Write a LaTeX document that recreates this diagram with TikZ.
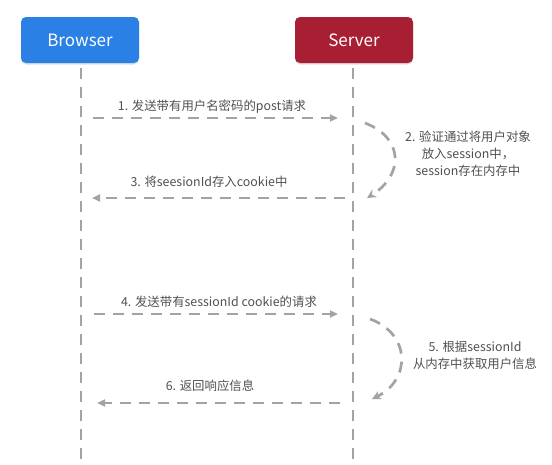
\documentclass[tikz,border=0pt]{standalone}
\usepackage{fontspec}
\setmainfont{Noto Sans CJK SC}
\usetikzlibrary{arrows.meta,shadows}
\definecolor{browserblue}{HTML}{2A80E4}
\definecolor{serverred}{HTML}{A81F33}
\definecolor{linegray}{HTML}{A3A3A3}
\definecolor{textgray}{HTML}{505050}

\begin{document}
\begin{tikzpicture}[x=1pt, y=-1pt]
            \tikzstyle{actor}=[rounded corners=5pt,minimum width=118pt,minimum height=46pt,text=white,font=\fontsize{17}{20}\selectfont,drop shadow={opacity=0.25,shadow xshift=0pt,shadow yshift=-1.5pt}]
            \tikzstyle{lifeline}=[linegray,line width=2.7pt,dash pattern=on 11pt off 8pt]
            \tikzstyle{msg}=[lifeline,-{Triangle[length=8pt,width=7pt]}]
            \tikzstyle{loop}=[lifeline,-{Stealth[length=9pt,width=9pt]}]
            \tikzstyle{step label}=[text=textgray,font=\fontsize{12.4}{17}\selectfont,align=center,inner sep=1pt]
            \useasboundingbox (0,0) rectangle (552,464);

            \node[actor,fill=browserblue] (browser) at (80,40)  {Browser};
            \node[actor,fill=serverred]   (server)  at (354,40) {Server};

            \coordinate (browserEnd) at (81,464);
            \coordinate (serverEnd)  at (353,464);
            \draw[lifeline] ([xshift=1pt,yshift=-5pt]browser.south) -- (browserEnd);
            \draw[lifeline] ([xshift=-1pt,yshift=-5pt]server.south) -- (serverEnd);

            \coordinate (M1a) at (93,118);  \coordinate (M1b) at (338,118);
            \coordinate (M2a) at (365,123); \coordinate (M2b) at (367,198);
            \coordinate (M3a) at (345,198); \coordinate (M3b) at (92,198);
            \coordinate (M4a) at (94,314);  \coordinate (M4b) at (338,314);
            \coordinate (M5a) at (370,319); \coordinate (M5b) at (372,399);
            \coordinate (M6a) at (340,403); \coordinate (M6b) at (97,403);

            \node[step label] (L1) at (212,107) {1. 发送带有用户名密码的post请求};
            \node[step label] (L2) at (468,154) {2. 验证通过将用户对象\\放入session中，\\session存在内存中};
            \node[step label] (L3) at (209,182) {3. 将seesionId存入cookie中};
            \node[step label] (L4) at (219,302) {4. 发送带有sessionId cookie的请求};
            \node[step label] (L5) at (475,355) {5. 根据sessionId\\从内存中获取用户信息};
            \node[step label] (L6) at (210,386) {6. 返回响应信息};

            \draw[msg] (M1a) -- (M1b);
            \draw[loop] (M2a) .. controls (404,138) and (404,175) .. (M2b);
            \draw[msg] (M3a) -- (M3b);
            \draw[msg] (M4a) -- (M4b);
            \draw[loop] (M5a) .. controls (411,334) and (411,380) .. (M5b);
            \draw[msg] (M6a) -- (M6b);

\end{tikzpicture}
\end{document}
